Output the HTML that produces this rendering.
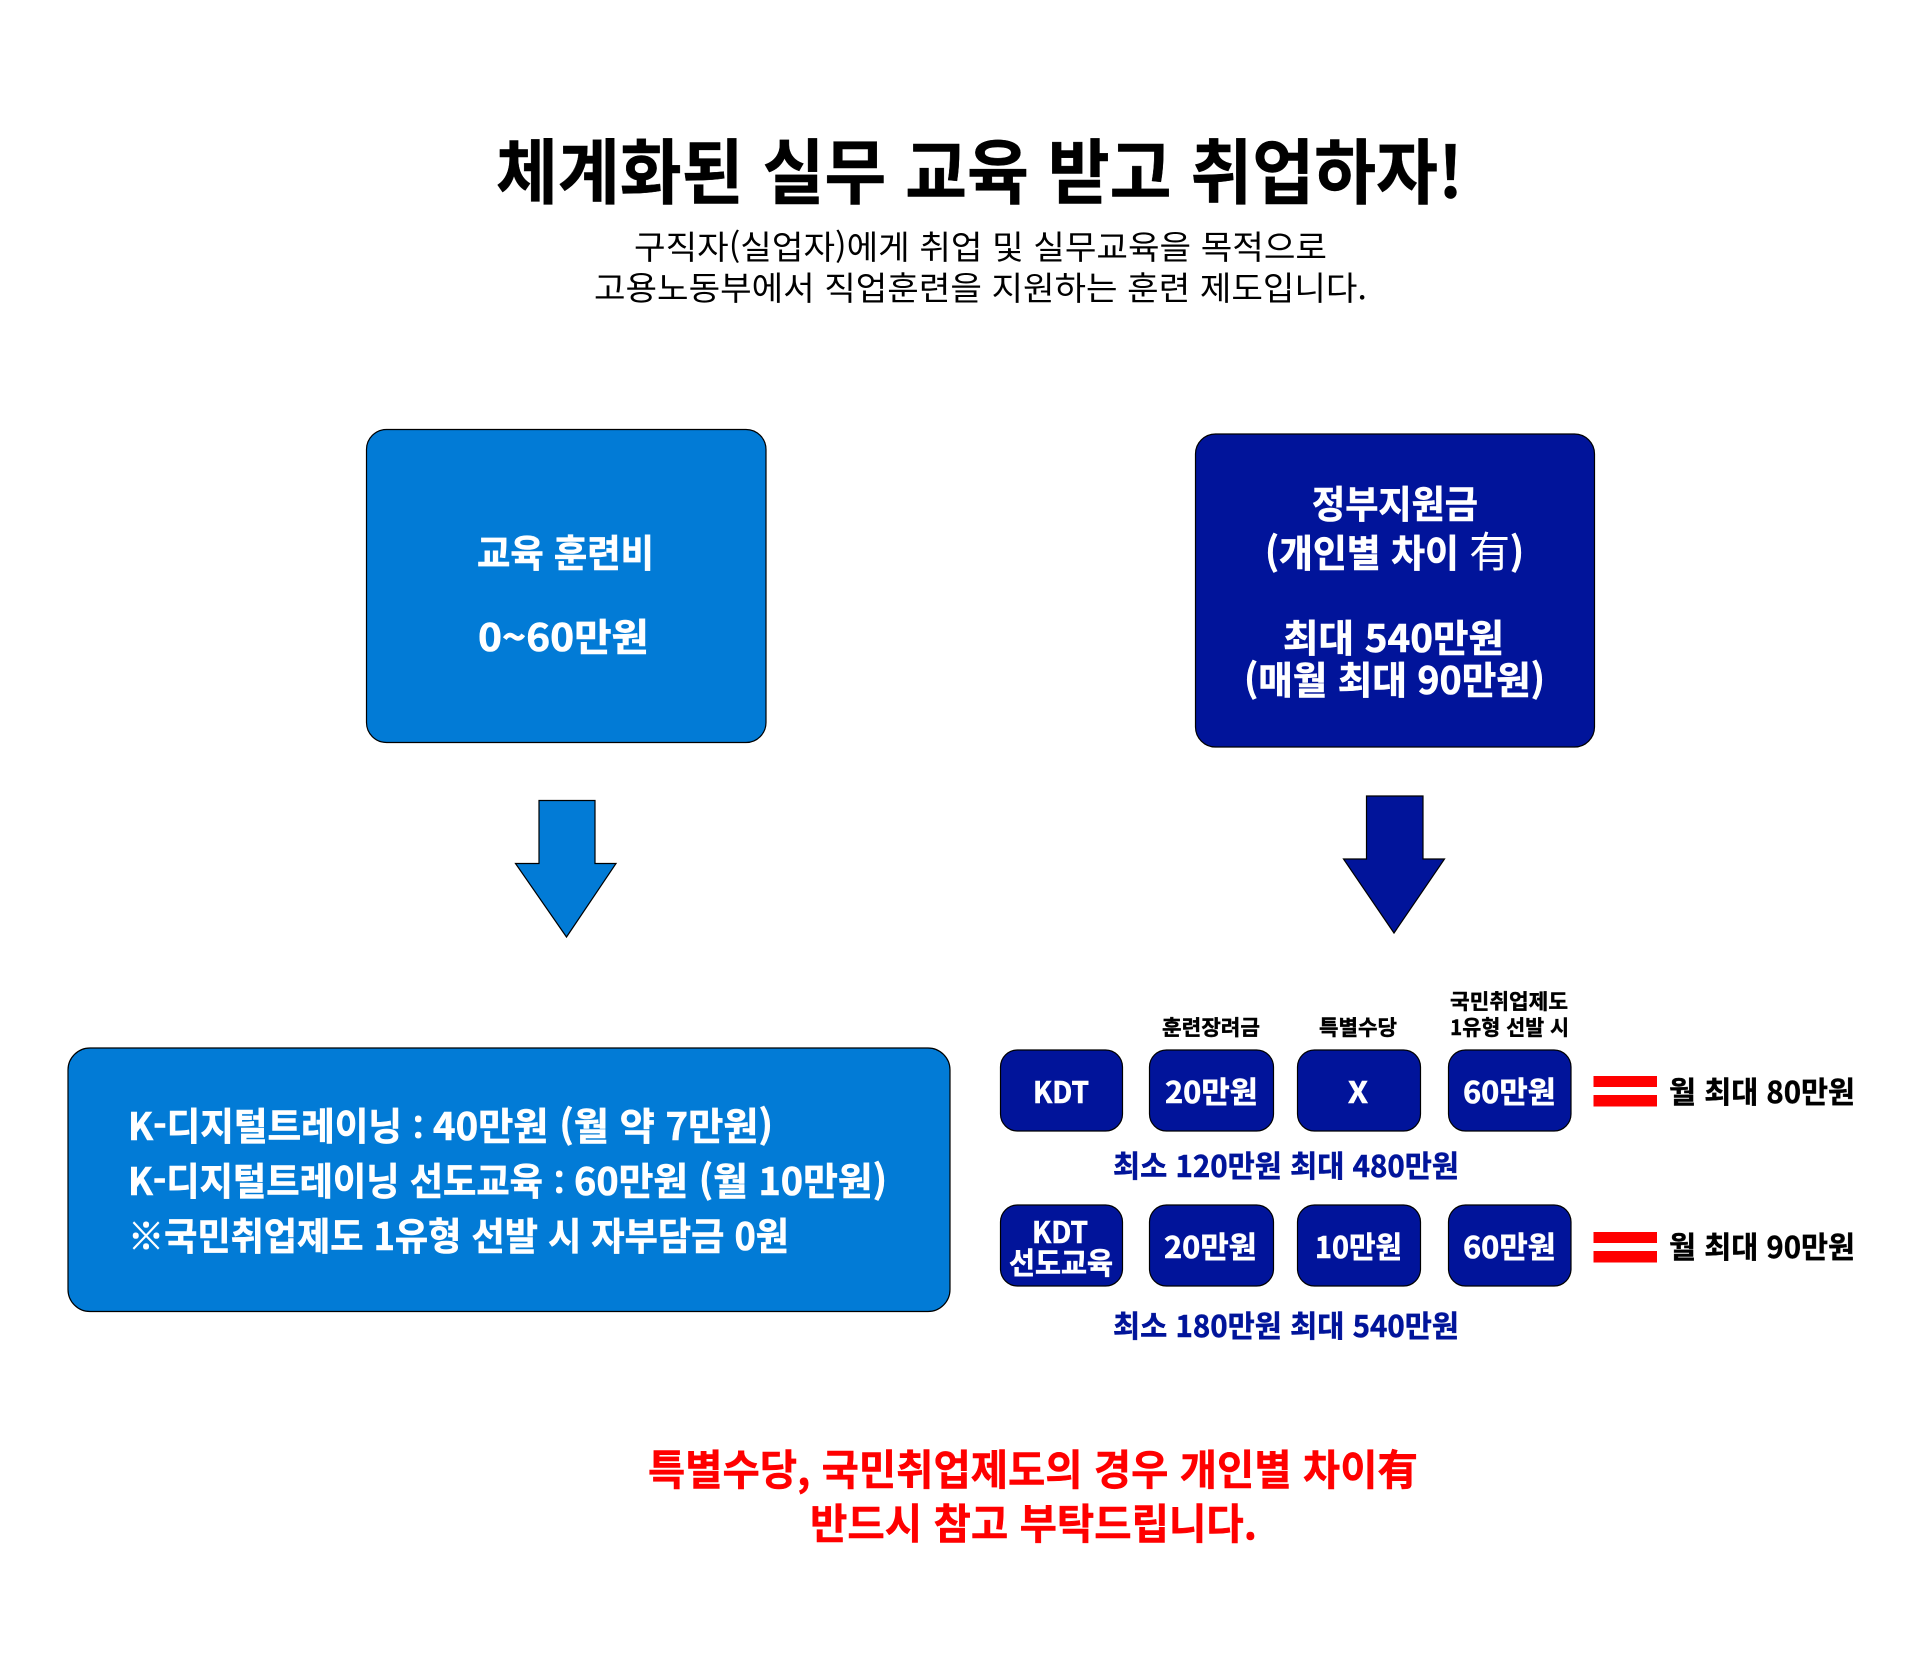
<!DOCTYPE html>
<html lang="ko"><head><meta charset="utf-8"><style>
html,body{margin:0;padding:0;background:#fff;width:1920px;height:1666px;overflow:hidden}
svg{display:block}
text{font-family:"Noto Sans CJK KR","Liberation Sans",sans-serif;font-weight:700;white-space:pre}
.w{fill:#fff;stroke:#fff;stroke-width:.6px}.k{fill:#000;stroke:#000;stroke-width:.4px}.d{fill:#01149a;stroke:#01149a;stroke-width:.5px}.r{fill:#ff0000;stroke:#ff0000;stroke-width:.5px}
.n{stroke:none}
</style></head><body>
<svg width="1920" height="1666" viewBox="0 0 1920 1666" xmlns="http://www.w3.org/2000/svg">
<rect width="1920" height="1666" fill="#fff"/>
<text class="k" x="496" y="198" font-size="71" textLength="967" lengthAdjust="spacingAndGlyphs">체계화된 실무 교육 받고 취업하자!</text>
<text class="k n" x="634" y="259" font-size="33" style="font-weight:400" textLength="693" lengthAdjust="spacingAndGlyphs">구직자(실업자)에게 취업 및 실무교육을 목적으로</text>
<text class="k n" x="594" y="300" font-size="33" style="font-weight:400" textLength="773" lengthAdjust="spacingAndGlyphs">고용노동부에서 직업훈련을 지원하는 훈련 제도입니다.</text>

<g stroke="#000" stroke-width="1.2">
<rect x="366.5" y="429.5" width="399.5" height="313" rx="20" fill="#027bd6"/>
<rect x="1195.5" y="434" width="399" height="313" rx="20" fill="#01149a"/>
<polygon points="539,800.5 595,800.5 595,863.5 616,863.5 566.5,937 515.5,863.5 539,863.5" fill="#027bd6"/>
<polygon points="1366.5,796 1423,796 1423,859 1444.5,859 1394,933 1343.5,859 1366.5,859" fill="#01149a"/>
<rect x="68" y="1048" width="882" height="263.5" rx="22" fill="#027bd6"/>
<rect x="1000.5" y="1050" width="122" height="81" rx="17" fill="#01149a"/>
<rect x="1149.5" y="1050" width="124" height="81" rx="17" fill="#01149a"/>
<rect x="1297.5" y="1050" width="123" height="81" rx="17" fill="#01149a"/>
<rect x="1448.5" y="1050" width="122.5" height="81" rx="17" fill="#01149a"/>
<rect x="1000.5" y="1205" width="122" height="81" rx="17" fill="#01149a"/>
<rect x="1149.5" y="1205" width="124" height="81" rx="17" fill="#01149a"/>
<rect x="1297.5" y="1205" width="123" height="81" rx="17" fill="#01149a"/>
<rect x="1448.5" y="1205" width="122.5" height="81" rx="17" fill="#01149a"/>
</g>

<g fill="#ff0000">
<rect x="1593.5" y="1076" width="63.5" height="11"/><rect x="1593.5" y="1095" width="63.5" height="11.5"/>
<rect x="1593.5" y="1232" width="63.5" height="11"/><rect x="1593.5" y="1251" width="63.5" height="11.5"/>
</g>

<g font-size="38">
<text class="w" x="477" y="567" textLength="177" lengthAdjust="spacingAndGlyphs">교육 훈련비</text>
<text class="w" x="478" y="651" textLength="171" lengthAdjust="spacingAndGlyphs">0~60만원</text>
<text class="w" x="1312" y="518" textLength="166" lengthAdjust="spacingAndGlyphs">정부지원금</text>
<text class="w" x="1265" y="567" textLength="259" lengthAdjust="spacingAndGlyphs">(개인별 차이 <tspan style="font-weight:400;stroke:none" font-size="42">有</tspan>)</text>
<text class="w" x="1283" y="652" textLength="221" lengthAdjust="spacingAndGlyphs">최대 540만원</text>
<text class="w" x="1244" y="694" textLength="301" lengthAdjust="spacingAndGlyphs">(매월 최대 90만원)</text>
<text class="w" x="128" y="1140" textLength="274" lengthAdjust="spacingAndGlyphs">K-디지털트레이닝</text>
<text class="w" x="413" y="1140" font-size="32">:</text>
<text class="w" x="433" y="1140" textLength="340" lengthAdjust="spacingAndGlyphs">40만원 (월 약 7만원)</text>
<text class="w" x="128" y="1195" textLength="415" lengthAdjust="spacingAndGlyphs">K-디지털트레이닝 선도교육</text>
<text class="w" x="554" y="1195" font-size="32">:</text>
<text class="w" x="574" y="1195" textLength="313" lengthAdjust="spacingAndGlyphs">60만원 (월 10만원)</text>
<text class="w" x="128" y="1250" textLength="661" lengthAdjust="spacingAndGlyphs">※국민취업제도 1유형 선발 시 자부담금 0원</text>
</g>

<g font-size="21">
<text class="k" x="1162" y="1035" textLength="98" lengthAdjust="spacingAndGlyphs">훈련장려금</text>
<text class="k" x="1319" y="1035" textLength="78" lengthAdjust="spacingAndGlyphs">특별수당</text>
<text class="k" x="1450" y="1009" textLength="118" lengthAdjust="spacingAndGlyphs">국민취업제도</text>
<text class="k" x="1450" y="1035" textLength="119" lengthAdjust="spacingAndGlyphs">1유형 선발 시</text>
</g>

<g font-size="30">
<text class="w" x="1033" y="1103" textLength="56" lengthAdjust="spacingAndGlyphs">KDT</text>
<text class="w" x="1165" y="1103" textLength="93" lengthAdjust="spacingAndGlyphs">20만원</text>
<text class="w" x="1348" y="1103" textLength="20" lengthAdjust="spacingAndGlyphs">X</text>
<text class="w" x="1463" y="1103" textLength="93" lengthAdjust="spacingAndGlyphs">60만원</text>
<text class="w" x="1032" y="1243" textLength="56" lengthAdjust="spacingAndGlyphs">KDT</text>
<text class="w" x="1009" y="1274" textLength="104" lengthAdjust="spacingAndGlyphs">선도교육</text>
<text class="w" x="1164" y="1258" textLength="93" lengthAdjust="spacingAndGlyphs">20만원</text>
<text class="w" x="1315" y="1258" textLength="87" lengthAdjust="spacingAndGlyphs">10만원</text>
<text class="w" x="1463" y="1258" textLength="93" lengthAdjust="spacingAndGlyphs">60만원</text>
<text class="k" x="1669" y="1103" textLength="186" lengthAdjust="spacingAndGlyphs">월 최대 80만원</text>
<text class="k" x="1669" y="1258" textLength="186" lengthAdjust="spacingAndGlyphs">월 최대 90만원</text>
<text class="d" x="1113" y="1177" textLength="346" lengthAdjust="spacingAndGlyphs">최소 120만원 최대 480만원</text>
<text class="d" x="1113" y="1337" textLength="346" lengthAdjust="spacingAndGlyphs">최소 180만원 최대 540만원</text>
</g>

<text class="r" x="648" y="1485" font-size="42" textLength="770" lengthAdjust="spacingAndGlyphs">특별수당, 국민취업제도의 경우 개인별 차이有</text>
<text class="r" x="810" y="1539" font-size="42" textLength="447" lengthAdjust="spacingAndGlyphs">반드시 참고 부탁드립니다.</text>
</svg>
</body></html>
